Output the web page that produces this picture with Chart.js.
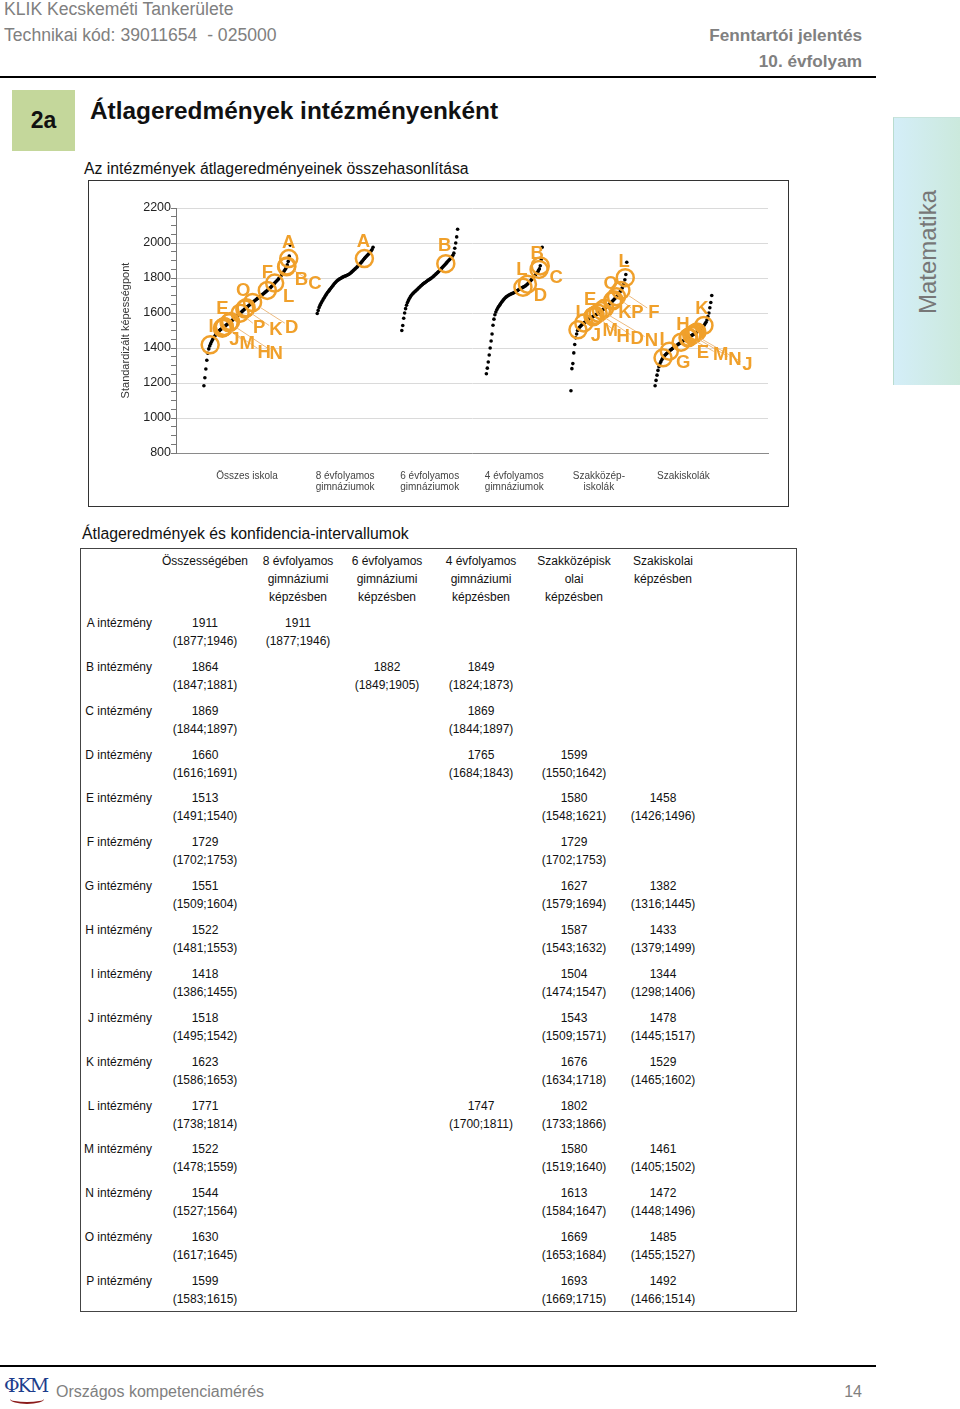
<!DOCTYPE html>
<html lang="hu"><head><meta charset="utf-8"><title>2a Átlageredmények intézményenként</title>
<script src="https://cdn.jsdelivr.net/npm/chart.js@4.4.1/dist/chart.umd.min.js"></script>
<style>
html,body{margin:0;padding:0}
body{width:960px;height:1409px;position:relative;overflow:hidden;background:#fff;font-family:"Liberation Sans",Arial,Helvetica,sans-serif;color:#111}
.t{position:absolute;white-space:pre;line-height:1;transform:translateY(-50%)}
.gray{color:#808080;font-size:17.6px}
.bold{font-weight:bold}
.rule{position:absolute;left:0;width:876px;height:2px;background:#000}
#badge{position:absolute;left:12px;top:90px;width:63px;height:61px;background:#c4d79b;font-weight:bold;font-size:23px;display:flex;align-items:center;justify-content:center;color:#111}
#tab{position:absolute;left:893px;top:117px;width:67px;height:267px;background:linear-gradient(90deg,#d4eef8,#cbe9dc);border-left:1px solid #b9dccf;border-top:1px solid #c8e4dc}
#tab span{position:absolute;left:50%;top:50%;transform:translate(-50%,-50%) rotate(-90deg);font-size:24px;color:#777;white-space:nowrap}
#chartBorder{position:absolute;left:88px;top:180px;width:701px;height:327px;border:1.5px solid #333;box-sizing:border-box}
#chartWrap{position:absolute;left:89px;top:181px;width:699px;height:325px}
#tableBox{position:absolute;left:80px;top:548px;width:717px;height:764px;border:1.5px solid #444;box-sizing:border-box}
.cell{position:absolute;font-size:12px;white-space:nowrap;line-height:1;transform:translateY(-50%);color:#111}
#logo{position:absolute;left:4px;top:1372px;width:48px;height:34px}
#logo .l1{position:absolute;left:0;top:2px;font-family:"DejaVu Serif",serif;font-size:19px;color:#1d3d8c;letter-spacing:-2px}
#logo .l2{position:absolute;left:6px;top:22px;width:34px;height:8px;border-bottom:2px solid #8b1a1a;border-radius:0 0 50% 50%}
</style></head>
<body>
<div class="t gray" style="left:4px;top:10px">KLIK Kecskeméti Tankerülete</div>
<div class="t gray" style="left:4px;top:36px">Technikai kód: 39011654  - 025000</div>
<div class="t gray bold" style="right:98px;top:36px;font-size:17.2px">Fenntartói jelentés</div>
<div class="t gray bold" style="right:98px;top:62px;font-size:17.2px">10. évfolyam</div>
<div class="rule" style="top:76px"></div>
<div id="badge">2a</div>
<div class="t bold" style="left:90px;top:111px;font-size:24.4px;color:#111">Átlageredmények intézményenként</div>
<div id="tab"><span>Matematika</span></div>
<div class="t" style="left:84px;top:169px;font-size:15.8px">Az intézmények átlageredményeinek összehasonlítása</div>
<div id="chartBorder"></div>
<div id="chartWrap"><canvas id="c"></canvas></div>
<div class="t" style="left:82px;top:534px;font-size:15.8px">Átlageredmények és konfidencia-intervallumok</div>
<div id="tableBox"></div>
<div class="rule" style="top:1365px"></div>
<div id="logo"><span class="l1">ΦKM</span><span class="l2"></span></div>
<div class="t" style="left:56px;top:1392px;font-size:16px;color:#808080">Országos kompetenciamérés</div>
<div class="t" style="right:98px;top:1392px;font-size:16px;color:#808080">14</div>
<script>
// ---------- DATA ----------
const categoryLabels = [["Összes iskola"],["8 évfolyamos","gimnáziumok"],["6 évfolyamos","gimnáziumok"],["4 évfolyamos","gimnáziumok"],["Szakközép-","iskolák"],["Szakiskolák"]];
const yTickValues = [800,1000,1200,1400,1600,1800,2000,2200];
const yAxisTitle = "Standardizált képességpont";

// sorted school averages per school type
const distAll = [1184,1230,1280,1330,1370,1395,1412,1425,1437,1448,
 1458,1467,1475,1482,1489,1495,1500,1505,1509,1513,
 1517,1522,1526,1531,1535,1540,1544,1549,1553,1557,
 1562,1567,1572,1577,1582,1587,1592,1597,1602,1607,
 1612,1617,1622,1627,1632,1637,1641,1646,1650,1655,
 1659,1664,1668,1673,1677,1682,1686,1691,1695,1700,
 1704,1709,1713,1718,1722,1727,1732,1737,1742,1747,
 1753,1759,1765,1771,1777,1783,1789,1795,1802,1809,
 1816,1824,1832,1841,1850,1860,1875,1895,1925,1988];
const dist8 = [1597,1615,1632,1645,1656,1666,1675,1684,1693,1702,
 1710,1718,1725,1732,1739,1746,1753,1760,1767,1773,
 1779,1784,1788,1792,1796,1799,1802,1805,1808,1810,
 1812,1814,1817,1820,1823,1827,1832,1837,1842,1847,
 1852,1857,1862,1868,1874,1880,1886,1892,1899,1906,
 1912,1918,1924,1930,1936,1942,1948,1955,1963,1976];
const dist6 = [1500,1529,1570,1600,1625,1645,1660,1672,1683,1692,
 1700,1707,1713,1718,1723,1728,1733,1738,1744,1749,
 1754,1759,1764,1768,1772,1776,1780,1784,1788,1791,
 1795,1799,1803,1807,1812,1817,1822,1827,1832,1837,
 1843,1849,1855,1861,1867,1873,1879,1885,1891,1897,
 1903,1909,1915,1922,1930,1942,1970,2000,2035,2079];
const dist4 = [1253,1285,1320,1360,1400,1440,1480,1530,1565,1590,
 1606,1618,1628,1637,1645,1653,1661,1668,1675,1681,
 1687,1692,1696,1700,1703,1706,1709,1711,1713,1716,
 1719,1722,1726,1729,1733,1736,1739,1742,1745,1748,
 1751,1754,1758,1763,1768,1774,1780,1786,1792,1798,
 1805,1812,1819,1826,1833,1842,1852,1870,1905,1976];
const distSzk = [1156,1282,1311,1372,1420,1458,1480,1500,1510,1518,
 1524,1530,1535,1540,1545,1549,1553,1557,1561,1565,
 1569,1572,1575,1578,1582,1585,1589,1592,1596,1600,
 1604,1608,1612,1616,1620,1625,1629,1634,1638,1643,
 1648,1653,1658,1663,1669,1674,1680,1686,1692,1699,
 1706,1714,1722,1731,1742,1755,1770,1790,1820,1890];
const distSzi = [1184,1215,1245,1272,1293,1310,1322,1333,1342,1350,
 1357,1363,1368,1373,1378,1383,1388,1392,1397,1401,
 1405,1409,1413,1417,1421,1425,1429,1433,1436,1440,
 1443,1447,1450,1454,1457,1461,1464,1468,1471,1475,
 1478,1482,1486,1490,1494,1498,1502,1507,1512,1517,
 1523,1530,1538,1547,1560,1580,1600,1630,1660,1700];

// institutions
const letters = ['A','B','C','D','E','F','G','H','I','J','K','L','M','N','O','P'];
const meanAll = [1911,1864,1869,1660,1513,1729,1551,1522,1418,1518,1623,1771,1522,1544,1630,1599];
const loAll   = [1877,1847,1844,1616,1491,1702,1509,1481,1386,1495,1586,1738,1478,1527,1617,1583];
const hiAll   = [1946,1881,1897,1691,1540,1753,1604,1553,1455,1542,1653,1814,1559,1564,1645,1615];
const mean8 = [1911,null,null,null,null,null,null,null,null,null,null,null,null,null,null,null];
const lo8   = [1877,null,null,null,null,null,null,null,null,null,null,null,null,null,null,null];
const hi8   = [1946,null,null,null,null,null,null,null,null,null,null,null,null,null,null,null];
const mean6 = [null,1882,null,null,null,null,null,null,null,null,null,null,null,null,null,null];
const lo6   = [null,1849,null,null,null,null,null,null,null,null,null,null,null,null,null,null];
const hi6   = [null,1905,null,null,null,null,null,null,null,null,null,null,null,null,null,null];
const mean4 = [null,1849,1869,1765,null,null,null,null,null,null,null,1747,null,null,null,null];
const lo4   = [null,1824,1844,1684,null,null,null,null,null,null,null,1700,null,null,null,null];
const hi4   = [null,1873,1897,1843,null,null,null,null,null,null,null,1811,null,null,null,null];
const meanSzk = [null,null,null,1599,1580,1729,1627,1587,1504,1543,1676,1802,1580,1613,1669,1693];
const loSzk   = [null,null,null,1550,1548,1702,1579,1543,1474,1509,1634,1733,1519,1584,1653,1669];
const hiSzk   = [null,null,null,1642,1621,1753,1694,1632,1547,1571,1718,1866,1640,1647,1684,1715];
const meanSzi = [null,null,null,null,1458,null,1382,1433,1344,1478,1529,null,1461,1472,1485,1492];
const loSzi   = [null,null,null,null,1426,null,1316,1379,1298,1445,1465,null,1405,1448,1455,1466];
const hiSzi   = [null,null,null,null,1496,null,1445,1499,1406,1517,1602,null,1502,1496,1527,1514];

const tableHeaders = [["Összességében"],["8 évfolyamos","gimnáziumi","képzésben"],["6 évfolyamos","gimnáziumi","képzésben"],["4 évfolyamos","gimnáziumi","képzésben"],["Szakközépisk","olai","képzésben"],["Szakiskolai","képzésben"]];

// ---------- LAYOUT / STYLE ----------
const ORANGE = '#F0A02B';
const LEADER = '#EDBB80';
const groups = [distAll, dist8, dist6, dist4, distSzk, distSzi];
const groupMeans = [meanAll, mean8, mean6, mean4, meanSzk, meanSzi];
const groupLo = [loAll, lo8, lo6, lo4, loSzk, loSzi];
const groupHi = [hiAll, hi8, hi6, hi4, hiSzk, hiSzi];
const groupSpans = [[0.33,1.35],[1.67,2.33],[2.67,3.33],[3.67,4.33],[4.67,5.33],[5.665,6.335]];
const groupCenters = groupSpans.map(s => (s[0]+s[1])/2);
// label offsets (px) from circle centre
const labelOffsets = [
  {A:[0,-16],B:[15,13],C:[28,18],D:[39,25],E:[0,-19],F:[0,-18],H:[40,26],I:[1,-18],J:[11,13],K:[31,21],L:[14,14],M:[23,17],N:[47,31],O:[-3,-17],P:[19,15]},
  {A:[-1,-17]},
  {B:[-1,-18]},
  {B:[-2,-16],C:[16,12],L:[-1,-17],D:[13,12]},
  {L:[-1,-16],O:[-2,-17],E:[-3,-17],I:[0,-17],K:[11,13],P:[21,16],F:[33,22],J:[12,13],M:[17,14],H:[28,22],D:[39,26],N:[50,30]},
  {I:[-1,-18],G:[14,12],H:[2,-17],K:[-2,-17],E:[15,15],M:[32,18],N:[43,25],J:[54,31]}
];

function xsFor(g){
  const arr = groups[g], a = groupSpans[g][0], b = groupSpans[g][1];
  return arr.map((v,i) => a + i*(b-a)/(arr.length-1));
}
function locate(g, v){
  const arr = groups[g], xs = xsFor(g);
  if (v <= arr[0]) return xs[0];
  for (let i=0;i<arr.length-1;i++){
    if (v >= arr[i] && v <= arr[i+1]){
      const t = arr[i+1]===arr[i] ? 0 : (v-arr[i])/(arr[i+1]-arr[i]);
      return xs[i] + t*(xs[i+1]-xs[i]);
    }
  }
  return xs[xs.length-1];
}

const circleSets = groups.map((arr,g) => {
  const pts = [], ls = [];
  groupMeans[g].forEach((v,i) => { if (v !== null){ pts.push({x: locate(g,v), y: v}); ls.push(letters[i]); } });
  return {type:'scatter', data: pts, letters: ls, groupIndex: g, isCircle: true,
    pointRadius: 8.5, pointHoverRadius: 8.5, pointBorderWidth: 2.5, pointBackgroundColor: 'rgba(0,0,0,0)',
    pointBorderColor: ORANGE, showLine: false, clip: false};
});
const dotSets = groups.map((arr,g) => {
  const xs = xsFor(g);
  return {type:'scatter', data: arr.map((v,i)=>({x: xs[i], y: v})),
    pointRadius: 1.8, pointHoverRadius: 1.8, pointBorderWidth: 0, pointBackgroundColor: '#000', showLine: false, clip: false};
});

const labelPlugin = {
  id: 'instLabels',
  afterDatasetsDraw(chart){
    const ctx = chart.ctx;
    ctx.save();
    chart.data.datasets.forEach((ds, di) => {
      if (!ds.isCircle) return;
      const meta = chart.getDatasetMeta(di);
      const offs = labelOffsets[ds.groupIndex];
      meta.data.forEach((el, k) => {
        const o = offs[ds.letters[k]];
        if (!o) return;
        const lx = el.x + o[0], ly = el.y + o[1];
        const d = Math.hypot(o[0], o[1]);
        if (d > 23){
          const ux = o[0]/d, uy = o[1]/d;
          ctx.strokeStyle = LEADER; ctx.lineWidth = 1;
          ctx.beginPath();
          ctx.moveTo(el.x + ux*9, el.y + uy*9);
          ctx.lineTo(lx - ux*8, ly - uy*8);
          ctx.stroke();
        }
      });
    });
    ctx.font = 'bold 18.5px "Liberation Sans", Arial, sans-serif';
    ctx.fillStyle = ORANGE; ctx.textAlign = 'center'; ctx.textBaseline = 'middle';
    chart.data.datasets.forEach((ds, di) => {
      if (!ds.isCircle) return;
      const meta = chart.getDatasetMeta(di);
      const offs = labelOffsets[ds.groupIndex];
      meta.data.forEach((el, k) => {
        const o = offs[ds.letters[k]];
        if (!o) return;
        ctx.fillText(ds.letters[k], el.x + o[0], el.y + o[1]);
      });
    });
    ctx.restore();
  }
};

Chart.defaults.font.family = '"Liberation Sans", Arial, sans-serif';
new Chart(document.getElementById('c'), {
  type: 'scatter',
  data: { datasets: [...circleSets, ...dotSets] },
  options: {
    responsive: true, maintainAspectRatio: false, animation: false,
    layout: { padding: { left: 26, right: 20, top: 27, bottom: 0 } },
    plugins: { legend: { display: false }, tooltip: { enabled: false } },
    events: [],
    scales: {
      x: {
        type: 'linear', min: 0, max: 7,
        afterBuildTicks: s => { s.ticks = groupCenters.map(v => ({ value: v })); },
        afterFit: s => { s.height = 53; },
        ticks: { autoSkip: false, maxRotation: 0, padding: 18, color: '#444',
          font: { size: 10, lineHeight: 1.1 },
          callback: (v, i) => categoryLabels[i] },
        grid: { display: false, drawTicks: false },
        border: { display: true, color: '#8a8a8a', width: 1 }
      },
      y: {
        type: 'linear', min: 800, max: 2200,
        afterFit: s => { s.width = 61; },
        ticks: { stepSize: 50, autoSkip: false, padding: 0, color: '#222', font: { size: 12.5 },
          callback: v => yTickValues.includes(v) ? String(v) : '' },
        grid: { color: c => (c.tick && yTickValues.includes(c.tick.value)) ? '#dadada' : 'rgba(0,0,0,0)',
          tickColor: '#777', tickLength: 5, lineWidth: 1 },
        border: { color: '#777', width: 1 },
        title: { display: true, text: yAxisTitle, color: '#333', font: { size: 11 }, padding: { top: 4, bottom: 0 } }
      }
    }
  },
  plugins: [labelPlugin]
});

// ---------- TABLE ----------
const colCenters = [205,298,387,481,574,663];
function addCell(text, x, y, align){
  const d = document.createElement('div');
  d.className = 'cell';
  d.textContent = text;
  if (align === 'right'){ d.style.left = '0px'; d.style.width = x + 'px'; d.style.textAlign = 'right'; }
  else { d.style.left = (x-60) + 'px'; d.style.width = '120px'; d.style.textAlign = 'center'; }
  d.style.top = y + 'px';
  document.body.appendChild(d);
}
tableHeaders.forEach((lines, c) => lines.forEach((ln, k) => addCell(ln, colCenters[c], 561 + k*18)));
letters.forEach((L, i) => {
  const y = 623 + i*43.87;
  addCell(L + ' intézmény', 152, y, 'right');
  groupMeans.forEach((arr, c) => {
    if (arr[i] === null) return;
    addCell(String(arr[i]), colCenters[c], y);
    addCell('(' + groupLo[c][i] + ';' + groupHi[c][i] + ')', colCenters[c], y + 18);
  });
});
</script>
</body></html>
